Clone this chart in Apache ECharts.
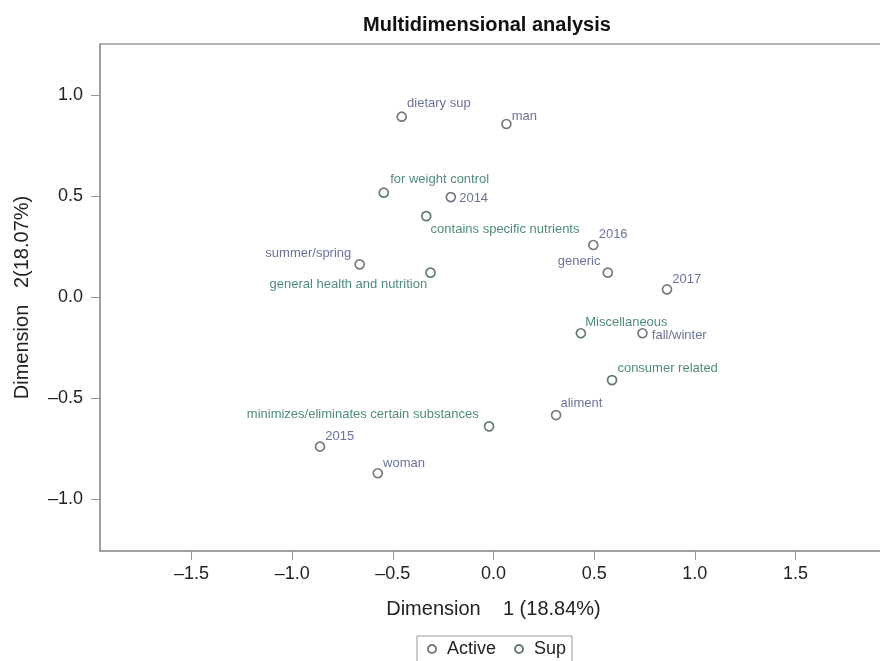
<!DOCTYPE html>
<html>
<head>
    <meta charset="utf-8">
    <title>Multidimensional analysis</title>
    <script type="text/javascript" src="https://cdn.jsdelivr.net/npm/echarts@6/dist/echarts.min.js"></script>
    <style type="text/css">
        html, body { margin: 0; padding: 0; background: #fff; }
        #main { width: 880px; height: 661px; }
    </style>
</head>
<body>
<div id="main"></div>
<script type="text/javascript">

    // tick values
    var xTicks = [-1.5, -1.0, -0.5, 0.0, 0.5, 1.0, 1.5];
    var yTicks = [-1.0, -0.5, 0.0, 0.5, 1.0];

    // active categories
    var activeNames = ['dietary sup', 'man', '2014', '2016', 'generic', 'summer/spring',
        '2017', 'fall/winter', 'aliment', '2015', 'woman'];
    var activeX = [-0.456, 0.064, -0.212, 0.496, 0.568, -0.665, 0.862, 0.740, 0.311, -0.862, -0.575];
    var activeY = [0.895, 0.859, 0.497, 0.260, 0.123, 0.164, 0.040, -0.177, -0.582, -0.738, -0.870];

    // supplementary categories
    var supNames = ['for weight control', 'contains specific nutrients', 'general health and nutrition',
        'Miscellaneous', 'consumer related', 'minimizes/eliminates certain substances'];
    var supX = [-0.545, -0.334, -0.313, 0.434, 0.589, -0.022];
    var supY = [0.519, 0.403, 0.123, -0.177, -0.409, -0.638];

    // where each label sits relative to its point: side, text edge offset, vertical offset
    var labelPlace = {
        'dietary sup': ['right', 5, -13],
        'man': ['right', 5, -8],
        '2014': ['right', 8, 1],
        '2016': ['right', 5, -11],
        'generic': ['left', -7, -11],
        'summer/spring': ['left', -8, -11],
        '2017': ['right', 5, -10],
        'fall/winter': ['right', 9, 2],
        'aliment': ['right', 4, -12],
        '2015': ['right', 5, -10],
        'woman': ['right', 5, -10],
        'for weight control': ['right', 6, -13],
        'contains specific nutrients': ['right', 4, 13],
        'general health and nutrition': ['left', -3, 12],
        'Miscellaneous': ['right', 4, -11],
        'consumer related': ['right', 5, -12],
        'minimizes/eliminates certain substances': ['left', -10, -12]
    };

    var FONT = 'Liberation Sans, Arial, sans-serif';

    function buildData(names, xs, ys, color) {
        var out = [];
        for (var i = 0; i < names.length; i++) {
            var p = labelPlace[names[i]];
            out.push({
                name: names[i],
                value: [xs[i], ys[i]],
                label: {
                    show: true,
                    formatter: '{b}',
                    position: p[0],
                    distance: 0,
                    offset: [p[0] === 'right' ? p[1] - 5 : p[1] + 5, p[2]],
                    color: color,
                    fontSize: 13,
                    fontFamily: FONT
                }
            });
        }
        return out;
    }

    function fmt(v) {
        var s = Math.abs(v).toFixed(1);
        return v < 0 ? '\u2013' + s : s;
    }

    var myChart = echarts.init(document.getElementById('main'));

    var axisFont = { fontSize: 18, color: '#222', fontFamily: FONT };

    var option = {
        animation: false,
        title: {
            text: 'Multidimensional analysis',
            left: 482,
            top: 10,
            textAlign: 'center',
            textStyle: { fontSize: 20, fontWeight: 'bold', color: '#111', fontFamily: FONT }
        },
        grid: {
            left: 100,
            top: 44,
            width: 787,
            bottom: 110,
            outerBoundsMode: 'none',
            containLabel: false,
            show: true,
            borderColor: '#9a9a9a',
            borderWidth: 1.5,
            backgroundColor: 'transparent'
        },
        legend: {
            data: [
                { name: 'Active', icon: 'emptyCircle', itemStyle: { color: '#555a60', borderColor: '#555a60', borderWidth: 1.2 } },
                { name: 'Sup', icon: 'emptyCircle', itemStyle: { color: '#3a5a55', borderColor: '#3a5a55', borderWidth: 1.2 } }
            ],
            left: 417,
            top: 636,
            padding: [4, 6, 6, 10],
            itemGap: 18,
            itemWidth: 8,
            itemHeight: 8,
            borderColor: '#999',
            borderWidth: 1,
            borderRadius: 0,
            textStyle: { fontSize: 18, color: '#222', padding: [0, 0, 0, 6], fontFamily: FONT }
        },
        xAxis: {
            type: 'value',
            min: -1.955,
            max: 1.955,
            name: 'Dimension    1 (18.84%)',
            nameLocation: 'middle',
            nameGap: 48,
            nameTextStyle: { fontSize: 20, color: '#222', fontFamily: FONT },
            splitLine: { show: false },
            axisLine: { show: true, onZero: false, lineStyle: { color: '#9a9a9a', width: 1.5 } },
            axisTick: { show: true, length: 9, customValues: xTicks, lineStyle: { color: '#8a9a92' } },
            axisLabel: Object.assign({ margin: 14, customValues: xTicks, formatter: fmt }, axisFont)
        },
        yAxis: {
            type: 'value',
            min: -1.255,
            max: 1.255,
            name: 'Dimension   2(18.07%)',
            nameLocation: 'middle',
            nameGap: 68,
            nameTextStyle: { fontSize: 20, color: '#222', fontFamily: FONT },
            splitLine: { show: false },
            axisLine: { show: true, onZero: false, lineStyle: { color: '#9a9a9a', width: 1.5 } },
            axisTick: { show: true, length: 9, customValues: yTicks, lineStyle: { color: '#8a9a92' } },
            axisLabel: Object.assign({ margin: 17, customValues: yTicks, formatter: fmt }, axisFont)
        },
        series: [
            {
                name: 'Active',
                type: 'scatter',
                symbol: 'circle',
                symbolSize: 9,
                itemStyle: { color: '#fff', borderColor: '#555a60', borderWidth: 1.7 },
                data: buildData(activeNames, activeX, activeY, '#454e82')
            },
            {
                name: 'Sup',
                type: 'scatter',
                symbol: 'circle',
                symbolSize: 9,
                itemStyle: { color: '#fff', borderColor: '#3a5a55', borderWidth: 1.7 },
                data: buildData(supNames, supX, supY, '#1f6e5e')
            }
        ]
    };

    myChart.setOption(option);
</script>
</body>
</html>
